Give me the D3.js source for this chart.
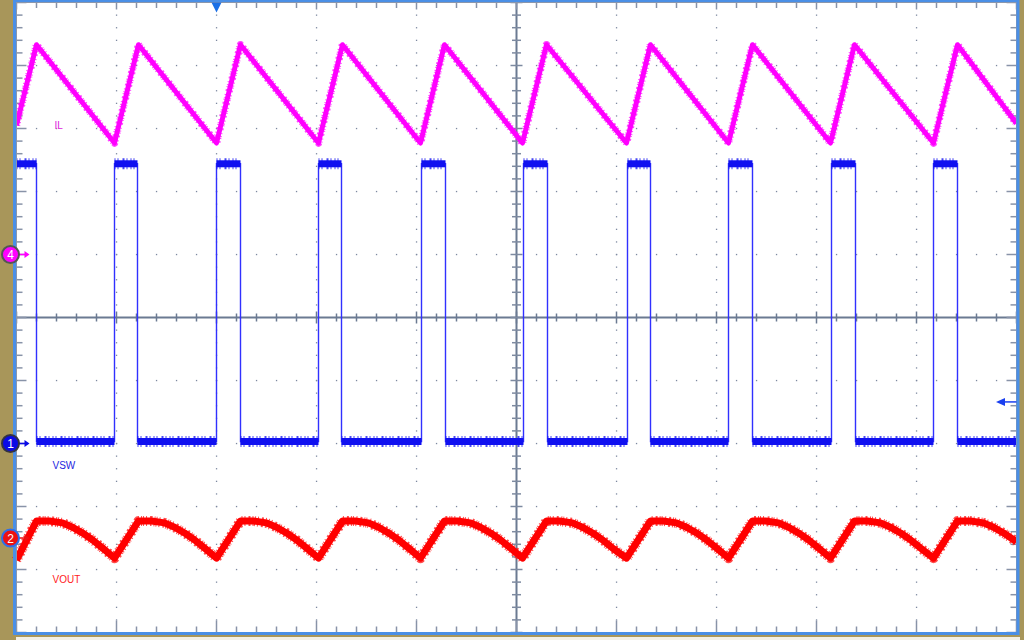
<!DOCTYPE html>
<html><head><meta charset="utf-8">
<script src="https://cdn.jsdelivr.net/npm/d3@7"></script>
<style>html,body{margin:0;padding:0;background:#a8965a;overflow:hidden}svg{display:block}</style>
</head><body>
<svg id="c" width="1024" height="640"></svg>
<script>
// ---- data (screen divisions: time 0..10 div, amplitude -5..5 div) ----
const ilPoints = [[0,3.05],[0.20,4.33],[0.98,2.77],[1.22,4.33],[2.00,2.77],[2.24,4.33],[3.02,2.77],[3.26,4.33],[4.04,2.77],[4.28,4.33],[5.06,2.77],[5.30,4.33],[6.10,2.77],[6.34,4.33],[7.12,2.77],[7.36,4.33],[8.14,2.77],[8.38,4.33],[9.17,2.77],[9.41,4.33],[10.0,3.08]];
const vswRise = [0.98,2.00,3.02,4.05,5.07,6.11,7.12,8.15,9.17];
const vswFall = [0.20,1.21,2.24,3.25,4.29,5.31,6.34,7.36,8.39,9.41];
const vswHigh = 2.44, vswLow = -1.97;
const voutPoints = [[0.00,-3.85],
 [0.20,-3.23],[0.33,-3.23],[0.46,-3.26],[0.56,-3.33],[0.66,-3.42],[0.76,-3.53],[0.86,-3.66],[0.98,-3.82],
 [1.22,-3.23],[1.35,-3.23],[1.48,-3.26],[1.58,-3.33],[1.68,-3.42],[1.78,-3.53],[1.88,-3.66],[2.00,-3.82],
 [2.24,-3.23],[2.37,-3.23],[2.50,-3.26],[2.60,-3.33],[2.70,-3.42],[2.80,-3.53],[2.90,-3.66],[3.02,-3.82],
 [3.26,-3.23],[3.39,-3.23],[3.52,-3.26],[3.62,-3.33],[3.72,-3.42],[3.82,-3.53],[3.92,-3.66],[4.04,-3.82],
 [4.28,-3.23],[4.41,-3.23],[4.54,-3.26],[4.64,-3.33],[4.74,-3.42],[4.84,-3.53],[4.94,-3.66],[5.06,-3.82],
 [5.30,-3.23],[5.43,-3.23],[5.56,-3.26],[5.66,-3.33],[5.76,-3.42],[5.86,-3.53],[5.96,-3.66],[6.10,-3.82],
 [6.34,-3.23],[6.47,-3.23],[6.60,-3.26],[6.70,-3.33],[6.80,-3.42],[6.90,-3.53],[7.00,-3.66],[7.12,-3.82],
 [7.36,-3.23],[7.49,-3.23],[7.62,-3.26],[7.72,-3.33],[7.82,-3.42],[7.92,-3.53],[8.02,-3.66],[8.14,-3.82],
 [8.38,-3.23],[8.51,-3.23],[8.64,-3.26],[8.74,-3.33],[8.84,-3.42],[8.94,-3.53],[9.04,-3.66],[9.17,-3.82],
 [9.41,-3.23],[9.54,-3.23],[9.67,-3.26],[9.77,-3.33],[9.87,-3.42],[10.0,-3.56]];
const labels = [{text:"IL", t:0.38, v:3.0, color:"#dd22dd"},{text:"VSW", t:0.36, v:-2.40, color:"#1e1ee0"},{text:"VOUT", t:0.36, v:-4.21, color:"#ff1a1a"}];
const channels = [{id:"4", v:1.0, fill:"#ff00ff", ring:"#555555", arrow:"#ff00ff"},{id:"1", v:-2.0, fill:"#0a0ae6", ring:"#333344", arrow:"#0a0ae6"},{id:"2", v:-3.50, fill:"#ee1111", ring:"#2f6fe8", arrow:"#ee1111"}];
const triggerLevel = -1.34, triggerPos = 2.0;

// ---- scales ----
const x = d3.scaleLinear().domain([0,10]).range([16.5,1016.5]);
const y = d3.scaleLinear().domain([-5,5]).range([632.5,2.5]);
const svg = d3.select("#c");

svg.append("rect").attr("width",1024).attr("height",640).attr("fill","#a8965a");
svg.append("rect").attr("x",16).attr("y",637).attr("width",1004).attr("height",3).attr("fill","#f3f0e6");
svg.append("rect").attr("x",x(0)).attr("y",y(5)).attr("width",x(10)-x(0)).attr("height",y(-5)-y(5)).attr("fill","#ffffff");

const g = svg.append("g");
const majorX = d3.range(0,11), majorY = d3.range(-5,6);
const minorX = d3.range(0,50.5).map(i=>i*0.2), minorY = d3.range(0,50.5).map(i=>-5+i*0.2);
const grid = "#7d89a0";

// dotted grid
majorY.filter(v=>v!==0 && v!==-5 && v!==5).forEach(v=>{
  g.selectAll(null).data(minorX.filter(t=>t>0&&t<10)).enter().append("rect")
   .attr("x",t=>x(t)-0.6).attr("y",y(v)-0.6).attr("width",1.3).attr("height",1.3).attr("fill",grid);
});
majorX.filter(t=>t!==0 && t!==5 && t!==10).forEach(t=>{
  g.selectAll(null).data(minorY.filter(v=>v>-5&&v<5)).enter().append("rect")
   .attr("x",x(t)-0.6).attr("y",v=>y(v)-0.6).attr("width",1.3).attr("height",1.3).attr("fill",grid);
});
// center lines
g.append("line").attr("x1",x(0)).attr("x2",x(10)).attr("y1",y(0)).attr("y2",y(0)).attr("stroke","#6b7a92").attr("stroke-width",2);
g.append("line").attr("x1",x(5)).attr("x2",x(5)).attr("y1",y(5)).attr("y2",y(-5)).attr("stroke","#6b7a92").attr("stroke-width",2);
const isMaj = v => Math.abs(v-Math.round(v))<1e-6;
g.selectAll(null).data(minorX).enter().append("line")
  .attr("x1",t=>x(t)).attr("x2",t=>x(t)).attr("y1",t=>y(0)-(isMaj(t)?6:4)).attr("y2",t=>y(0)+(isMaj(t)?6:4))
  .attr("stroke","#6b7a92").attr("stroke-width",1.5);
g.selectAll(null).data(minorY).enter().append("line")
  .attr("y1",v=>y(v)).attr("y2",v=>y(v)).attr("x1",v=>x(5)-(isMaj(v)?6:4.5)).attr("x2",v=>x(5)+(isMaj(v)?6:4.5))
  .attr("stroke","#7d8aa0").attr("stroke-width",1.5);
// edge ticks
const edge = "#8893a8";
g.selectAll(null).data(minorX).enter().append("line")
  .attr("x1",t=>x(t)).attr("x2",t=>x(t)).attr("y1",y(5)).attr("y2",t=>y(5)+(isMaj(t)?7:5.5))
  .attr("stroke",edge).attr("stroke-width",1.5);
g.selectAll(null).data(minorX).enter().append("line")
  .attr("x1",t=>x(t)).attr("x2",t=>x(t)).attr("y1",y(-5)).attr("y2",t=>y(-5)-(isMaj(t)?12:6))
  .attr("stroke",edge).attr("stroke-width",1.5);
g.selectAll(null).data(minorY).enter().append("line")
  .attr("y1",v=>y(v)).attr("y2",v=>y(v)).attr("x1",x(0)).attr("x2",v=>x(0)+(isMaj(v)?10:6))
  .attr("stroke",edge).attr("stroke-width",1.5);
g.selectAll(null).data(minorY).enter().append("line")
  .attr("y1",v=>y(v)).attr("y2",v=>y(v)).attr("x1",x(10)).attr("x2",v=>x(10)-(isMaj(v)?10:6))
  .attr("stroke",edge).attr("stroke-width",1.5);

// ---- traces ----
const line = d3.line().x(d=>x(d[0])).y(d=>y(d[1]));
function band(pts, color, core, spike){
  svg.append("path").attr("d",line(pts)).attr("fill","none").attr("stroke",color)
    .attr("stroke-width",spike).attr("stroke-dasharray","1 2 1 3 2 2 1 1").attr("opacity",0.7).attr("stroke-linejoin","round");
  svg.append("path").attr("d",line(pts)).attr("fill","none").attr("stroke",color)
    .attr("stroke-width",core).attr("stroke-linejoin","round");
}
band(ilPoints,"#ff00ff",5,7.5);

// VSW
const edges = vswFall.map(t=>({t,dir:-1})).concat(vswRise.map(t=>({t,dir:1}))).sort((a,b)=>a.t-b.t);
const vswPts = [[0,vswHigh]]; let lvl = vswHigh;
const plateaus = []; let start = 0;
edges.forEach(e=>{ vswPts.push([e.t,lvl]); plateaus.push([[start,lvl],[e.t,lvl]]); lvl = e.dir>0?vswHigh:vswLow; vswPts.push([e.t,lvl]); start=e.t; });
vswPts.push([10,lvl]); plateaus.push([[start,lvl],[10,lvl]]);
svg.append("path").attr("d",line(vswPts)).attr("fill","none").attr("stroke","#3030ff").attr("stroke-width",1.4);
plateaus.forEach(p=>{
  svg.append("path").attr("d",line(p)).attr("fill","none").attr("stroke","#1a1af2").attr("stroke-width",11)
    .attr("stroke-dasharray","1 2 1 4 2 2 1 3").attr("opacity",0.8);
  svg.append("path").attr("d",line(p)).attr("fill","none").attr("stroke","#1010f0").attr("stroke-width",7);
});
band(voutPoints,"#ff0000",7,10);

// labels
svg.selectAll(null).data(labels).enter().append("text")
  .attr("x",d=>x(d.t)).attr("y",d=>y(d.v)).attr("fill",d=>d.color)
  .attr("font-family","Liberation Sans, Arial, sans-serif").attr("font-size",10).text(d=>d.text);

// frame
svg.append("rect").attr("x",x(0)).attr("y",y(5)).attr("width",x(10)-x(0)).attr("height",y(-5)-y(5))
  .attr("fill","none").attr("stroke","#8a96ac").attr("stroke-width",1);
svg.append("rect").attr("x",14.5).attr("y",0.5).attr("width",1003.5).attr("height",633)
  .attr("fill","none").attr("stroke","#4a8fe6").attr("stroke-width",3);

// trigger position marker
const tx = x(triggerPos);
svg.append("path").attr("d",`M${tx-5},${y(5)}L${tx+5},${y(5)}L${tx},${y(5)+10}Z`).attr("fill","#1a6fe6");
// trigger level arrow
const ty = y(triggerLevel);
svg.append("line").attr("x1",x(10)).attr("x2",1002).attr("y1",ty).attr("y2",ty).attr("stroke","#1a3ff0").attr("stroke-width",1.5);
svg.append("path").attr("d",`M996,${ty}L1005,${ty-4}L1005,${ty+4}Z`).attr("fill","#1a3ff0");

// channel markers
const ch = svg.selectAll(null).data(channels).enter().append("g").attr("transform",d=>`translate(10.5,${y(d.v)})`);
ch.append("line").attr("x1",8).attr("x2",17).attr("y1",0).attr("y2",0).attr("stroke",d=>d.arrow).attr("stroke-width",1.5);
ch.append("path").attr("d","M14,-3.5L19,0L14,3.5Z").attr("fill",d=>d.arrow);
ch.append("circle").attr("r",8.5).attr("fill",d=>d.fill).attr("stroke",d=>d.ring).attr("stroke-width",2);
ch.append("text").attr("text-anchor","middle").attr("y",4.5).attr("fill","#ffffff")
  .attr("font-family","Liberation Sans, Arial, sans-serif").attr("font-size",12).text(d=>d.id);
</script>
</body></html>
